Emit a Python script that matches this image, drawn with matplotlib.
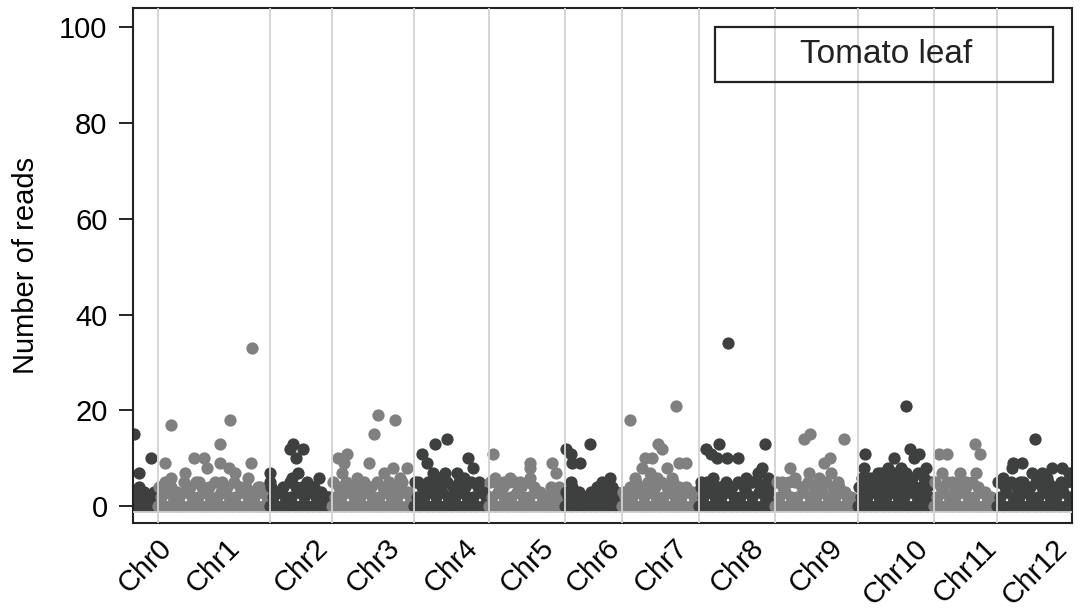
import matplotlib
matplotlib.use("Agg")
import matplotlib.pyplot as plt
from matplotlib.patches import Rectangle
import numpy as np

plt.rcParams['font.family'] = ['Liberation Sans', 'DejaVu Sans']

chrom_names = ['Chr0', 'Chr1', 'Chr2', 'Chr3', 'Chr4', 'Chr5', 'Chr6',
               'Chr7', 'Chr8', 'Chr9', 'Chr10', 'Chr11', 'Chr12']
chrom_len = [20, 90, 50, 66, 60, 61, 46, 62, 61, 66, 61, 51, 60]
yticks = [0, 20, 40, 60, 80, 100]

chr0_pos = [0, 4, 8, 12, 16, 20, 2, 6, 10, 14, 18, 1, 5, 9, 13, 17, 1, 5, 15]
chr0_val = [0, 0, 0, 0, 0, 0, 2, 1, 2, 2, 1, 3, 4, 3, 2, 3, 15, 7, 10]

chr1_pos = [0, 5, 10, 15, 20, 25, 30, 35, 40, 45, 50, 55, 60, 65, 70, 75, 80, 85, 90,
            2.5, 7.5, 12.5, 17.5, 22.5, 27.5, 32.5, 37.5, 42.5, 47.5, 52.5, 57.5, 62.5, 67.5, 72.5, 77.5, 82.5, 87.5,
            1, 6, 11, 16, 21, 26, 31, 36, 41, 46, 51, 56, 61, 66, 71, 76, 81, 86,
            76, 11, 58, 50, 6, 29, 37, 40, 22, 33, 50, 57, 62, 75, 73, 82, 11, 52]
chr1_val = [0, 0, 0, 0, 0, 0, 0, 0, 0, 0, 0, 0, 0, 0, 0, 0, 0, 0, 0,
            2, 3, 2, 2, 3, 2, 2, 3, 2, 2, 3, 2, 2, 3, 2, 2, 3, 2,
            4, 5, 4, 3, 5, 4, 5, 4, 4, 5, 3, 4, 5, 4, 4, 3, 4, 3,
            33, 17, 18, 13, 9, 10, 10, 8, 7, 5, 9, 8, 7, 9, 6, 4, 6, 5]

chr2_pos = [0, 5, 10, 15, 20, 25, 30, 35, 40, 45, 50,
            2.5, 7.5, 12.5, 17.5, 22.5, 27.5, 32.5, 37.5, 42.5, 47.5,
            1, 6, 11, 16, 21, 26, 31, 36, 41, 46,
            0, 18.6, 26.6, 21, 16, 23, 40, 18, 0, 30, 35]
chr2_val = [0, 0, 0, 0, 0, 0, 0, 0, 0, 0, 0,
            2, 3, 2, 2, 3, 2, 3, 2, 2, 2,
            4, 3, 4, 5, 4, 4, 3, 4, 3, 2,
            7, 13, 12, 10, 12, 7, 6, 6, 5, 5, 4]

chr3_pos = [0, 5, 10, 15, 20, 25, 30, 35, 40, 45, 50, 55, 60, 65,
            2.5, 7.5, 12.5, 17.5, 22.5, 27.5, 32.5, 37.5, 42.5, 47.5, 52.5, 57.5, 62.5,
            1, 6, 11, 16, 21, 26, 31, 36, 41, 46, 51, 56, 61,
            37, 51, 34, 12, 5, 30, 49, 60, 8, 42, 10, 20, 55]
chr3_val = [0, 0, 0, 0, 0, 0, 0, 0, 0, 0, 0, 0, 0, 0,
            2, 2, 3, 2, 2, 3, 2, 2, 3, 2, 2, 3, 2,
            5, 4, 5, 4, 4, 5, 4, 5, 4, 5, 4, 5, 3,
            19, 18, 15, 11, 10, 9, 8, 8, 7, 7, 9, 6, 6]

chr4_pos = [0, 5, 10, 15, 20, 25, 30, 35, 40, 45, 50, 55, 60,
            2.5, 7.5, 12.5, 17.5, 22.5, 27.5, 32.5, 37.5, 42.5, 47.5, 52.5, 57.5,
            1, 6, 11, 16, 21, 26, 31, 36, 41, 46, 51, 56,
            17, 26, 6, 10, 43, 47, 15, 34, 25, 3, 20, 40, 52]
chr4_val = [0, 0, 0, 0, 0, 0, 0, 0, 0, 0, 0, 0, 0,
            2, 2, 3, 2, 3, 2, 2, 3, 2, 2, 3, 2,
            5, 4, 5, 4, 5, 5, 4, 5, 4, 5, 4, 3,
            13, 14, 11, 9, 10, 8, 7, 7, 7, 5, 6, 6, 5]

chr5_pos = [0, 5, 10, 15, 20, 25, 30, 35, 40, 45, 50, 55, 60,
            2.5, 7.5, 12.5, 17.5, 22.5, 27.5, 32.5, 37.5, 42.5, 47.5, 52.5, 57.5,
            1, 6, 11, 16, 21, 26, 31, 36, 41, 46, 51, 56,
            3.5, 33, 51, 33, 54, 33, 50, 17, 5, 12, 25]
chr5_val = [0, 0, 0, 0, 0, 0, 0, 0, 0, 0, 0, 0, 0,
            2, 3, 2, 2, 3, 2, 2, 3, 2, 1, 2, 2,
            5, 5, 4, 5, 5, 4, 5, 4, 3, 2, 3, 4,
            11, 9, 9, 8, 7, 6, 4, 6, 6, 5, 5]

chr6_pos = [0, 5, 10, 15, 20, 25, 30, 35, 40, 45,
            2.5, 7.5, 12.5, 17.5, 22.5, 27.5, 32.5, 37.5, 42.5,
            1, 6, 11, 16, 21, 26, 31, 36, 41,
            20, 1, 5, 12, 6, 5, 36, 5, 30, 38]
chr6_val = [0, 0, 0, 0, 0, 0, 0, 0, 0, 0,
            2, 1, 2, 2, 1, 2, 2, 2, 1,
            3, 4, 3, 2, 3, 4, 3, 4, 3,
            13, 12, 11, 9, 9, 5, 6, 2, 5, 4]

chr7_pos = [0, 5, 10, 15, 20, 25, 30, 35, 40, 45, 50, 55, 60,
            2.5, 7.5, 12.5, 17.5, 22.5, 27.5, 32.5, 37.5, 42.5, 47.5, 52.5, 57.5,
            1, 6, 11, 16, 21, 26, 31, 36, 41, 46, 51, 56,
            6.4, 43, 29, 32, 18, 24, 16, 36, 46, 51, 10, 40, 22, 28]
chr7_val = [0, 0, 0, 0, 0, 0, 0, 0, 0, 0, 0, 0, 0,
            2, 2, 3, 2, 3, 2, 2, 3, 2, 2, 3, 2,
            3, 4, 5, 4, 5, 4, 5, 4, 5, 4, 4, 3,
            18, 21, 13, 12, 10, 10, 8, 8, 9, 9, 6, 6, 7, 6]

chr8_pos = [0, 5, 10, 15, 20, 25, 30, 35, 40, 45, 50, 55, 60,
            2.5, 7.5, 12.5, 17.5, 22.5, 27.5, 32.5, 37.5, 42.5, 47.5, 52.5, 57.5,
            1, 6, 11, 16, 21, 26, 31, 36, 41, 46, 51, 56,
            23, 5, 16, 9, 14, 22, 31, 53, 50, 47, 11, 37, 1, 42, 55]
chr8_val = [0, 0, 0, 0, 0, 0, 0, 0, 0, 0, 0, 0, 0,
            2, 3, 2, 2, 3, 2, 2, 3, 2, 3, 2, 2,
            4, 5, 4, 4, 5, 4, 5, 4, 5, 5, 4, 4,
            34, 12, 13, 11, 10, 10, 10, 13, 8, 7, 6, 6, 5, 5, 6]

chr9_pos = [0, 5, 10, 15, 20, 25, 30, 35, 40, 45, 50, 55, 60, 65,
            2.5, 7.5, 12.5, 17.5, 22.5, 27.5, 32.5, 37.5, 42.5, 47.5, 52.5, 57.5, 62.5,
            1, 6, 11, 16, 21, 26, 31, 36, 41, 46, 51, 56, 61,
            23, 28, 55, 39, 44, 12, 27, 45, 5, 16, 35, 50]
chr9_val = [0, 0, 0, 0, 0, 0, 0, 0, 0, 0, 0, 0, 0, 0,
            2, 3, 2, 2, 3, 2, 2, 3, 2, 2, 3, 2, 1,
            5, 4, 5, 5, 4, 5, 4, 5, 5, 4, 4, 3, 2,
            14, 15, 14, 9, 10, 8, 7, 7, 5, 6, 6, 5]

chr10_pos = [0, 5, 10, 15, 20, 25, 30, 35, 40, 45, 50, 55, 60,
             2.5, 7.5, 12.5, 17.5, 22.5, 27.5, 32.5, 37.5, 42.5, 47.5, 52.5, 57.5,
             1, 6, 11, 16, 21, 26, 31, 36, 41, 46, 51, 56,
             3.5, 8.5, 13.5, 18.5, 23.5, 28.5, 33.5, 38.5, 43.5, 48.5, 53.5, 58.5,
             39, 6, 42, 49, 29, 45, 24, 16, 5, 35, 55, 20, 10]
chr10_val = [0, 0, 0, 0, 0, 0, 0, 0, 0, 0, 0, 0, 0,
             2, 2, 3, 2, 2, 3, 2, 2, 3, 2, 2, 2,
             4, 4, 5, 4, 4, 5, 4, 4, 5, 4, 4, 4,
             6, 5, 6, 7, 6, 7, 6, 7, 6, 7, 6, 5,
             21, 11, 12, 11, 10, 10, 8, 7, 8, 8, 8, 6, 6]

chr11_pos = [0, 5, 10, 15, 20, 25, 30, 35, 40, 45, 50,
             2.5, 7.5, 12.5, 17.5, 22.5, 27.5, 32.5, 37.5, 42.5, 47.5,
             1, 6, 11, 16, 21, 26, 31, 36, 41, 46,
             4, 11, 33, 37, 7, 21, 34, 26, 15]
chr11_val = [0, 0, 0, 0, 0, 0, 0, 0, 0, 0, 0,
             2, 3, 2, 2, 3, 2, 2, 3, 2, 1,
             5, 4, 5, 4, 5, 4, 5, 4, 3, 2,
             11, 11, 13, 11, 7, 7, 7, 5, 5]

chr12_pos = [0, 5, 10, 15, 20, 25, 30, 35, 40, 45, 50, 55, 60,
             2.5, 7.5, 12.5, 17.5, 22.5, 27.5, 32.5, 37.5, 42.5, 47.5, 52.5, 57.5,
             1, 6, 11, 16, 21, 26, 31, 36, 41, 46, 51, 56,
             30, 13, 20, 5, 28, 36, 44, 52, 58, 12, 18, 49, 40]
chr12_val = [0, 0, 0, 0, 0, 0, 0, 0, 0, 0, 0, 0, 0,
             2, 3, 2, 2, 3, 2, 2, 3, 2, 2, 3, 2,
             5, 4, 5, 4, 5, 4, 5, 4, 5, 4, 5, 5,
             14, 9, 9, 6, 7, 7, 8, 8, 7, 8, 5, 4, 6]

chrom_pos = [chr0_pos, chr1_pos, chr2_pos, chr3_pos, chr4_pos, chr5_pos, chr6_pos,
             chr7_pos, chr8_pos, chr9_pos, chr10_pos, chr11_pos, chr12_pos]
chrom_val = [chr0_val, chr1_val, chr2_val, chr3_val, chr4_val, chr5_val, chr6_val,
             chr7_val, chr8_val, chr9_val, chr10_val, chr11_val, chr12_val]

dark = '#3e403f'
light = '#808080'
grid_col = '#d2d2d2'

fig = plt.figure(figsize=(10.8, 6.1), dpi=100)
ax = fig.add_axes([0.1228, 0.1426, 0.8697, 0.8443])

ends = np.cumsum(chrom_len)
starts = ends - np.array(chrom_len)
centers = starts + np.array(chrom_len) / 2.0

for i in range(len(chrom_names)):
    x = starts[i] + np.array(chrom_pos[i], dtype=float)
    y = np.array(chrom_val[i], dtype=float)
    ax.scatter(x, y, s=78, c=dark if i % 2 == 0 else light,
               linewidths=0, zorder=2)

for b in ends[:-1]:
    ax.axvline(b, color=grid_col, lw=1.3, zorder=3)
ax.axhline(-1.25, color=grid_col, lw=1.3, zorder=3)

ax.set_xlim(0, ends[-1])
ax.set_ylim(-3.5, 104)

ax.set_xticks(centers)
ax.set_xticklabels(chrom_names, rotation=45, ha='center', fontsize=21)
ax.tick_params(axis='x', length=0, pad=8)
ax.set_yticks(yticks)
ax.set_yticklabels([str(t) for t in yticks], fontsize=21)
ax.tick_params(axis='y', length=10, width=1.2, pad=8, direction='out')
ax.set_ylabel('Number of reads', fontsize=21, labelpad=14)

for sp in ax.spines.values():
    sp.set_linewidth(1.5)
    sp.set_color('#222222')

box = Rectangle((0.620, 0.857), 0.3595, 0.1067, transform=ax.transAxes,
                fill=False, edgecolor='#222222', lw=1.6, zorder=5)
ax.add_patch(box)
ax.text(0.8025, 0.909, 'Tomato leaf', transform=ax.transAxes, fontsize=24,
        ha='center', va='center', color='#222222', zorder=6)

fig.savefig('out.png', dpi=100)
